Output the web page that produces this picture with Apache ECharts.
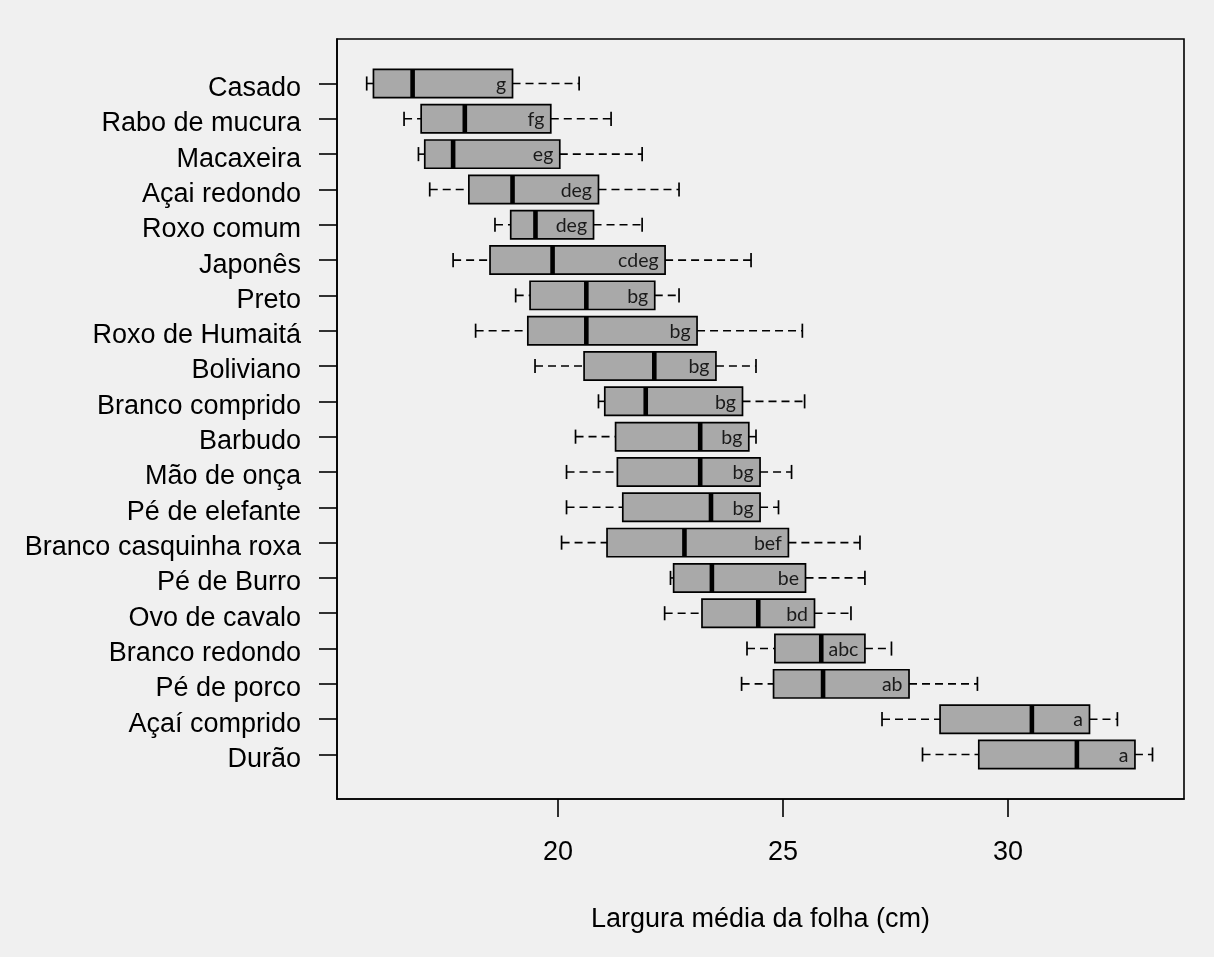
<!DOCTYPE html>
<html>
<head>
<meta charset="utf-8">
<script src="https://cdn.jsdelivr.net/npm/echarts@6/dist/echarts.min.js"></script>
<style>
html,body{margin:0;padding:0;background:#f0f0f0;}
#chart{width:1214px;height:957px;}
</style>
</head>
<body>
<div id="chart"></div>
<script>
const categories = ['Casado', 'Rabo de mucura', 'Macaxeira', 'Açai redondo', 'Roxo comum', 'Japonês', 'Preto', 'Roxo de Humaitá', 'Boliviano', 'Branco comprido', 'Barbudo', 'Mão de onça', 'Pé de elefante', 'Branco casquinha roxa', 'Pé de Burro', 'Ovo de cavalo', 'Branco redondo', 'Pé de porco', 'Açaí comprido', 'Durão'];
const whiskerLow  = [15.75, 16.58, 16.90, 17.15, 18.60, 17.67, 19.06, 18.17, 19.49, 20.90, 20.39, 20.19, 20.19, 20.08, 22.50, 22.37, 24.20, 24.08, 27.20, 28.10];
const q1          = [15.90, 16.96, 17.04, 18.02, 18.95, 18.49, 19.38, 19.33, 20.58, 21.04, 21.28, 21.32, 21.44, 21.09, 22.57, 23.20, 24.82, 24.79, 28.49, 29.35];
const median      = [16.77, 17.93, 17.67, 18.99, 19.50, 19.88, 20.63, 20.63, 22.14, 21.95, 23.16, 23.16, 23.40, 22.81, 23.42, 24.45, 25.85, 25.89, 30.53, 31.53];
const q3          = [18.99, 19.84, 20.04, 20.90, 20.79, 22.38, 22.15, 23.09, 23.51, 24.10, 24.24, 24.49, 24.49, 25.12, 25.50, 25.70, 26.82, 27.80, 31.81, 32.82];
const whiskerHigh = [20.47, 21.18, 21.87, 22.69, 21.87, 24.29, 22.69, 25.43, 24.40, 25.48, 24.40, 25.19, 24.90, 26.71, 26.82, 26.51, 27.41, 29.32, 32.43, 33.21];
const letters     = ['g', 'fg', 'eg', 'deg', 'deg', 'cdeg', 'bg', 'bg', 'bg', 'bg', 'bg', 'bg', 'bg', 'bef', 'be', 'bd', 'abc', 'ab', 'a', 'a'];
const xTicks = [20, 25, 30];
const xTitle = 'Largura média da folha (cm)';

const positions = categories.map((c, i) => i + 1);
const boxData = categories.map((c, i) => [i + 1, whiskerLow[i], q1[i], median[i], q3[i], whiskerHigh[i], letters[i]]);

const chart = echarts.init(document.getElementById('chart'), null, {renderer: 'canvas'});
const AXIS_FONT = '"Liberation Sans", Arial, Helvetica, sans-serif';

function renderBox(params, api) {
  const y = api.value(0);
  const lo = api.value(1), a = api.value(2), m = api.value(3), b = api.value(4), hi = api.value(5);
  const unit = api.size([0, 1])[1];
  const half = unit * 0.4;
  const staple = unit * 0.2;
  const pLo = api.coord([lo, y]);
  const pA = api.coord([a, y]);
  const pM = api.coord([m, y]);
  const pB = api.coord([b, y]);
  const pHi = api.coord([hi, y]);
  const cy = pA[1];
  const dash = {stroke: '#000', lineWidth: 1.6, lineDash: [8, 5]};
  const solid = {stroke: '#000', lineWidth: 1.7};
  return {
    type: 'group',
    children: [
      {type: 'line', shape: {x1: pLo[0], y1: cy, x2: pA[0], y2: cy}, style: dash},
      {type: 'line', shape: {x1: pB[0], y1: cy, x2: pHi[0], y2: cy}, style: dash},
      {type: 'line', shape: {x1: pLo[0], y1: cy - staple, x2: pLo[0], y2: cy + staple}, style: solid},
      {type: 'line', shape: {x1: pHi[0], y1: cy - staple, x2: pHi[0], y2: cy + staple}, style: solid},
      {type: 'rect', shape: {x: pA[0], y: cy - half, width: pB[0] - pA[0], height: 2 * half},
        style: {fill: '#a9a9a9', stroke: '#000', lineWidth: 1.7}},
      {type: 'line', shape: {x1: pM[0], y1: cy - half, x2: pM[0], y2: cy + half},
        style: {stroke: '#000', lineWidth: 4.6}},
      {type: 'text', x: pB[0] - 6.5, y: cy + 1,
        style: {text: api.value(6), fill: '#1a1a1a', font: '19.5px Lato, "Open Sans", sans-serif',
          align: 'right', verticalAlign: 'middle'}}
    ]
  };
}

const option = {
  backgroundColor: '#f0f0f0',
  animation: false,
  grid: {left: 337, right: 30, top: 39, bottom: 158, show: true,
    borderColor: '#000', borderWidth: 1.6, backgroundColor: 'transparent'},
  xAxis: {
    type: 'value', min: 15.09, max: 33.91, position: 'bottom',
    name: xTitle, nameLocation: 'middle', nameGap: 107,
    nameTextStyle: {fontFamily: AXIS_FONT, fontSize: 27, color: '#000'},
    splitLine: {show: false},
    axisLine: {show: true, onZero: false, lineStyle: {color: '#000', width: 1.6}},
    axisTick: {show: true, length: 18, customValues: xTicks, lineStyle: {color: '#000', width: 1.6}},
    axisLabel: {customValues: xTicks, margin: 40, fontFamily: AXIS_FONT, fontSize: 27, color: '#000'}
  },
  yAxis: {
    type: 'value', min: -0.26, max: 21.26, inverse: true, position: 'left',
    splitLine: {show: false},
    axisLine: {show: true, onZero: false, lineStyle: {color: '#000', width: 1.6}},
    axisTick: {show: true, length: 18, customValues: positions, lineStyle: {color: '#000', width: 1.6}},
    axisLabel: {customValues: positions, margin: 36, fontFamily: AXIS_FONT, fontSize: 27, color: '#000',
      formatter: v => '{c|' + (categories[Math.round(v) - 1] || '') + '}',
      rich: {c: {fontFamily: AXIS_FONT, fontSize: 27, color: '#000', padding: [10, 0, 0, 0]}}}
  },
  series: [{
    type: 'custom',
    renderItem: renderBox,
    encode: {x: [1, 2, 3, 4, 5], y: 0},
    data: boxData,
    clip: false
  }]
};
chart.setOption(option);
</script>
</body>
</html>
